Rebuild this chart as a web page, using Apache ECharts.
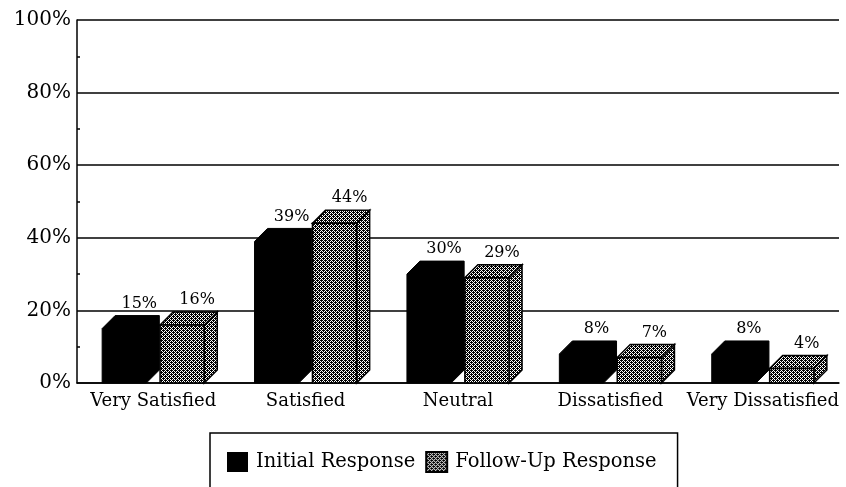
<!DOCTYPE html>
<html>
<head>
<meta charset="utf-8">
<script src="https://cdn.jsdelivr.net/npm/echarts@6/dist/echarts.min.js"></script>
<style>
  html, body { margin: 0; padding: 0; background: #fff; }
  #chart { width: 846px; height: 487px; }
</style>
</head>
<body>
<div id="chart"></div>
<script>
var categories = ['Very Satisfied', 'Satisfied', 'Neutral', 'Dissatisfied', 'Very Dissatisfied'];
var initialResponse = [15, 39, 30, 8, 8];
var followUpResponse = [16, 44, 29, 7, 4];
var seriesNames = ['Initial Response', 'Follow-Up Response'];
var yTicks = [0, 20, 40, 60, 80, 100];

var FONT = '"DejaVu Serif", serif';
var DEPTH = 13;

// gray dither pattern like the scanned hatch
function makePattern() {
    var c = document.createElement('canvas');
    c.width = 4;
    c.height = 4;
    var ctx = c.getContext('2d');
    ctx.fillStyle = '#fff';
    ctx.fillRect(0, 0, 4, 4);
    ctx.fillStyle = '#000';
    for (var x = 0; x < 4; x++) {
        for (var y = 0; y < 4; y++) {
            if ((x + y) % 2 === 0) ctx.fillRect(x, y, 1, 1);
        }
    }
    ctx.fillRect(1, 0, 1, 1);
    ctx.fillRect(3, 2, 1, 1);
    return c;
}
var hatch = { image: makePattern(), repeat: 'repeat' };

function renderBar(params, api) {
    var i = api.value(0);
    var v = api.value(1);
    var base = api.coord([i, 0]);
    var top = api.coord([i, v]);
    var bw = api.size([1, 0])[0];
    var s = params.seriesIndex;
    var x0 = base[0] + (s === 0 ? -0.335 : 0.045) * bw;
    var x1 = x0 + 0.29 * bw;
    var y0 = base[1];
    var y1 = top[1];
    var d = DEPTH;
    var children = [];
    if (s === 0) {
        children.push({
            type: 'polygon',
            shape: { points: [[x0, y0], [x0, y1], [x0 + d, y1 - d], [x1 + d, y1 - d], [x1 + d, y0 - d], [x1, y0]] },
            style: { fill: '#000', stroke: '#000', lineWidth: 1 }
        });
    } else {
        var st = { fill: hatch, stroke: '#000', lineWidth: 1.5 };
        children.push({
            type: 'polygon',
            shape: { points: [[x1, y1], [x1 + d, y1 - d], [x1 + d, y0 - d], [x1, y0]] },
            style: st
        });
        children.push({
            type: 'polygon',
            shape: { points: [[x0, y1], [x0 + d, y1 - d], [x1 + d, y1 - d], [x1, y1]] },
            style: st
        });
        children.push({
            type: 'rect',
            shape: { x: x0, y: y1, width: x1 - x0, height: y0 - y1 },
            style: st
        });
    }
    children.push({
        type: 'text',
        x: (x0 + x1) / 2 + 15,
        y: y1 - d - 4,
        style: {
            text: v + '%',
            fill: '#000',
            font: '16px ' + FONT,
            textAlign: 'center',
            textVerticalAlign: 'bottom'
        }
    });
    return { type: 'group', children: children };
}

function toData(arr) {
    return arr.map(function (v, i) { return [i, v]; });
}

var chart = echarts.init(document.getElementById('chart'));
chart.setOption({
    animation: false,
    backgroundColor: '#fff',
    grid: { left: 77, right: 7, top: 20, bottom: 104 },
    legend: {
        data: seriesNames,
        left: 210,
        top: 433,
        orient: 'horizontal',
        padding: [18, 21, 40, 17],
        itemGap: 10,
        itemWidth: 21,
        itemHeight: 20,
        icon: 'rect',
        borderColor: '#000',
        borderWidth: 1.5,
        textStyle: { fontFamily: FONT, fontSize: 19.5, color: '#000', padding: [0, 0, 0, 3] }
    },
    xAxis: {
        type: 'category',
        data: categories,
        axisLine: { lineStyle: { color: '#000', width: 1.5 } },
        axisTick: { show: false },
        axisLabel: { interval: 0, fontFamily: FONT, fontSize: 18, color: '#000', margin: 9 },
        splitLine: { show: false }
    },
    yAxis: {
        type: 'value',
        min: yTicks[0],
        max: yTicks[yTicks.length - 1],
        interval: 20,
        axisLine: { show: true, lineStyle: { color: '#000', width: 1.5 } },
        axisTick: { show: false, inside: true },
        minorTick: { show: true, splitNumber: 2, length: 3, lineStyle: { color: '#000', width: 1.5 } },
        axisLabel: {
            fontFamily: FONT, fontSize: 20, color: '#000', margin: 6,
            formatter: function (v) { return v + '%'; }
        },
        splitLine: { show: true, lineStyle: { color: '#000', width: 1.5 } }
    },
    series: [{
        name: seriesNames[0],
        type: 'custom',
        renderItem: renderBar,
        itemStyle: { color: '#000' },
        encode: { x: 0, y: 1 },
        data: toData(initialResponse),
        z: 2
    }, {
        name: seriesNames[1],
        type: 'custom',
        renderItem: renderBar,
        itemStyle: { color: hatch, borderColor: '#000', borderWidth: 1 },
        encode: { x: 0, y: 1 },
        data: toData(followUpResponse),
        z: 3
    }]
});
</script>
</body>
</html>
